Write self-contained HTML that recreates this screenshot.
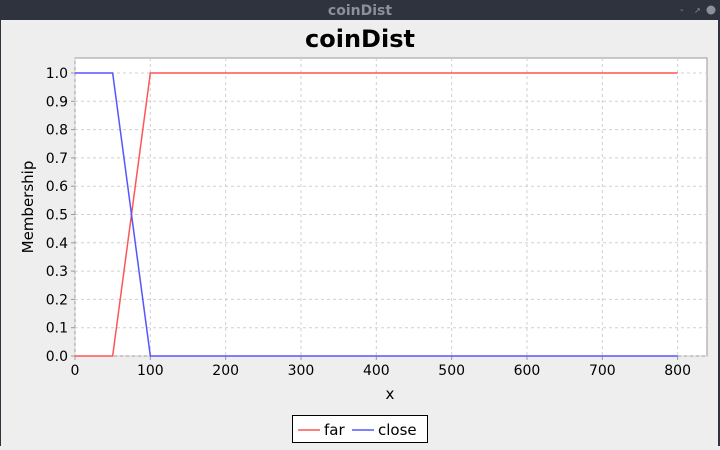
<!DOCTYPE html>
<html><head><meta charset="utf-8"><style>
body{margin:0;width:720px;height:446px;overflow:hidden;background:#eeeeee;font-family:"DejaVu Sans","Liberation Sans",sans-serif;}
</style></head><body>
<svg width="720" height="446" xmlns="http://www.w3.org/2000/svg">
<rect x="0" y="0" width="720" height="446" fill="#eeeeee"/>
<rect x="0" y="0" width="720" height="20" fill="#2f333d"/>
<text x="360" y="15" text-anchor="middle" font-size="14" font-weight="bold" fill="#8a909c">coinDist</text>
<text x="680" y="13" font-size="10" fill="#8a909c">-</text>
<text x="694" y="13" font-size="8" fill="#8a909c">↗</text>
<circle cx="711" cy="10" r="4.5" fill="#8a909c"/>
<rect x="718" y="20" width="2" height="426" fill="#2f333d"/>
<rect x="0" y="20" width="1" height="426" fill="#2f333d"/>
<text x="360" y="47" text-anchor="middle" font-size="24" font-weight="bold" fill="#000">coinDist</text>
<rect x="75" y="58" width="632" height="298" fill="#fff" stroke="#999"/>
<g id="grid"></g><g id="axes"></g><g id="series"></g>
<text x="390" y="399" text-anchor="middle" font-size="15" fill="#000">x</text>
<text transform="translate(33,207) rotate(-90)" text-anchor="middle" font-size="15" fill="#000">Membership</text>
<g>
<rect x="292.5" y="415.5" width="135" height="27" fill="#fff" stroke="#000"/>
<line x1="298" y1="430" x2="320" y2="430" stroke="#ff5555" stroke-width="1.5"/>
<text x="324" y="435" font-size="15" fill="#000">far</text>
<line x1="352" y1="430" x2="374" y2="430" stroke="#5555ff" stroke-width="1.5"/>
<text x="378" y="435" font-size="15" fill="#000">close</text>
</g>
</svg>
<script>
const xTicks=[0,100,200,300,400,500,600,700,800];
const yTicks=[0,0.1,0.2,0.3,0.4,0.5,0.6,0.7,0.8,0.9,1.0];
const farX=[0,50,100,800];
const farY=[0,0,1,1];
const closeX=[0,50,100,800];
const closeY=[1,1,0,0];
const NS="http://www.w3.org/2000/svg";
const sx=v=>75+v*0.7533;
const sy=v=>356-v*283;
const grid=document.getElementById('grid'),axes=document.getElementById('axes'),ser=document.getElementById('series');
function mk(tag,attrs,parent){const e=document.createElementNS(NS,tag);for(const k in attrs)e.setAttribute(k,attrs[k]);parent.appendChild(e);return e;}
xTicks.forEach(t=>{
 const g=mk('line',{x1:sx(t),x2:sx(t),y1:58,y2:356,stroke:'#d0d0d0','stroke-dasharray':'3,3'},grid);
 
 
 const tk=mk('line',{x1:sx(t),x2:sx(t),y1:356,y2:360,stroke:'#999'},axes);
 
 
 const l=mk('text',{x:sx(t),y:375,'text-anchor':'middle','font-size':'14',fill:'#000'},axes);
 l.textContent=t;
 
 
});
yTicks.forEach(t=>{
 const g=mk('line',{x1:75,x2:707,y1:sy(t),y2:sy(t),stroke:'#d0d0d0','stroke-dasharray':'3,3'},grid);
 
 
 const tk=mk('line',{x1:71,x2:75,y1:sy(t),y2:sy(t),stroke:'#999'},axes);
 
 
 const l=mk('text',{x:68,y:sy(t)+5,'text-anchor':'end','font-size':'14',fill:'#000'},axes);
 l.textContent=t.toFixed(1);
 
 
});
function line(xs,ys,color,name){
 const p=mk('polyline',{points:xs.map((x,i)=>sx(x)+','+sy(ys[i])).join(' '),fill:'none',stroke:color,'stroke-width':'1.5'},ser);
 
 
}
line(farX,farY,'#ff5555','far-line');
line(closeX,closeY,'#5555ff','close-line');
</script>
</body></html>
